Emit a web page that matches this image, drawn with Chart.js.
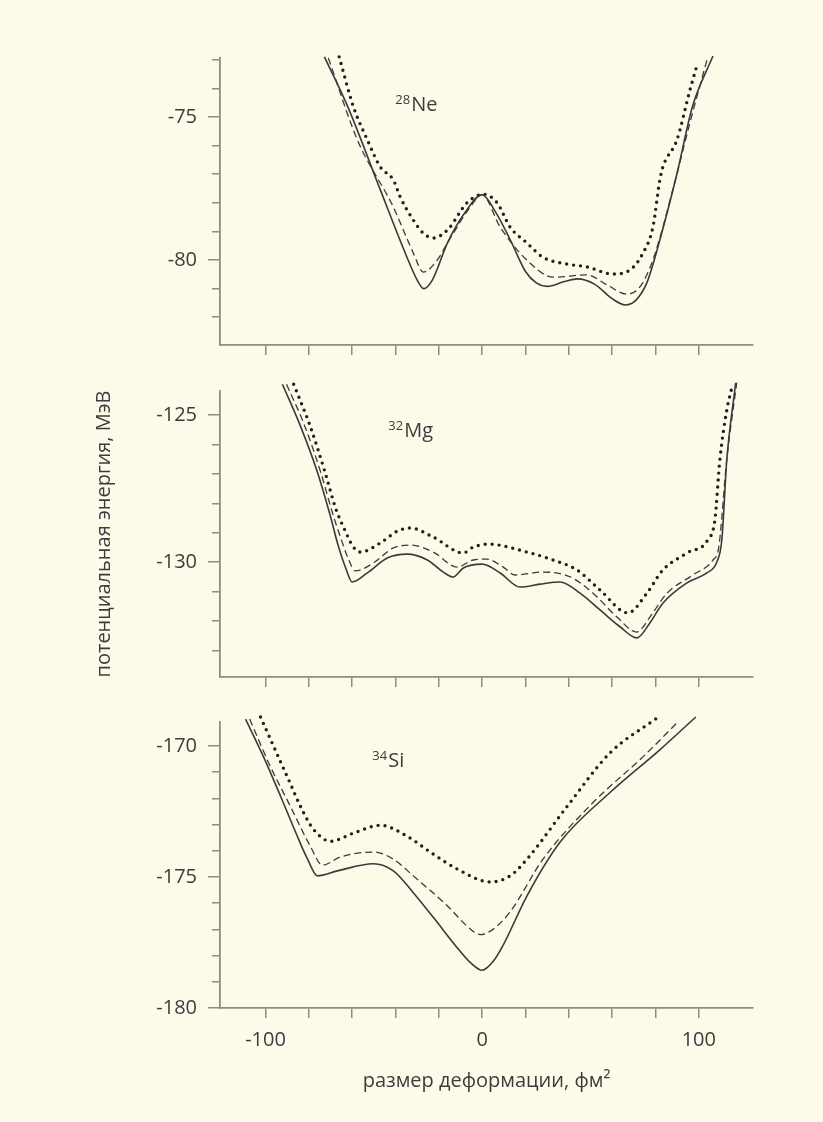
<!DOCTYPE html>
<html>
<head>
<meta charset="utf-8">
<script src="https://cdn.jsdelivr.net/npm/chart.js@4.4.1/dist/chart.umd.min.js"></script>
<style>
  html, body { margin: 0; padding: 0; background: #fdfaea; }
  #wrap { position: relative; width: 823px; height: 1122px; overflow: hidden; }
  #wrap canvas { position: absolute; left: 0; }
</style>
</head>
<body>
<div id="wrap">
  <canvas id="chNe" width="823" height="375" style="top:0px"></canvas>
  <canvas id="chMg" width="823" height="347" style="top:360px"></canvas>
  <canvas id="chSi" width="823" height="430" style="top:692px"></canvas>
</div>
<script>
// x axis (deformation, fm^2)
var xTicks = [-100, -80, -60, -40, -20, 0, 20, 40, 60, 80, 100];
var xLabels = [-100, 0, 100];

// 28Ne, [deformation, energy MeV]
var neSolid = [[-72.8,-72.9],[-62,-74.65],[-47,-77.55],[-35,-79.85],[-30,-80.7],[-27,-81.0],[-23,-80.7],
  [-16,-79.4],[-8,-78.35],[0,-77.72],[6,-78.3],[13,-79.3],[20,-80.4],[25,-80.8],[30,-80.92],[38,-80.75],
  [44,-80.66],[52,-80.85],[60,-81.35],[66,-81.57],[71,-81.4],[76,-80.8],[82,-79.3],[90,-76.95],[97,-74.65],[106.5,-72.87]];
var neDashed = [[-71,-72.94],[-57.6,-75.8],[-41,-78.15],[-31.8,-79.75],[-27.2,-80.42],[-20.7,-80.0],[-16,-79.4],
  [-12,-78.9],[-6,-78.2],[0,-77.72],[8.3,-78.85],[20.6,-80.0],[32.8,-80.6],[48.4,-80.52],[57.6,-80.87],[66.8,-81.19],
  [72.8,-80.94],[78.8,-80.0],[88,-77.55],[95.9,-75.2],[104,-72.94]];
var neDotted = [[-66,-72.9],[-59.4,-74.65],[-53,-75.8],[-47,-76.75],[-41,-77.2],[-37.8,-77.8],[-31.8,-78.6],
  [-27.2,-79.06],[-22.6,-79.23],[-16,-78.95],[-7,-78.0],[0.5,-77.7],[6.9,-78.0],[12.9,-78.85],[20.6,-79.4],
  [28,-79.9],[39,-80.14],[48.4,-80.24],[60.4,-80.49],[68.2,-80.35],[74.2,-79.76],[78.8,-78.85],[82,-77.2],
  [83.4,-76.75],[89.9,-75.8],[95.9,-74.06],[99.5,-73.1]];

// 32Mg
var mgSolid = [[-92.2,-123.95],[-84,-125.35],[-76,-126.95],[-70,-128.45],[-66.8,-129.35],[-63,-130.2],[-60,-130.68],[-53,-130.37],
  [-43.8,-129.86],[-34.6,-129.73],[-25.3,-129.93],[-18,-130.34],[-13.4,-130.51],[-8.7,-130.2],[0,-130.07],
  [8.3,-130.37],[17.5,-130.85],[26.7,-130.75],[36,-130.68],[45,-131.05],[54.4,-131.63],[63.6,-132.2],
  [71.4,-132.58],[77.4,-132.07],[83.4,-131.4],[94.5,-130.71],[103.7,-130.37],[108.3,-130.0],[110.6,-129.25],
  [112.9,-126.53],[117,-123.9]];
var mgDashed = [[-90.3,-123.95],[-82,-125.35],[-74.5,-126.95],[-68.8,-128.4],[-65.4,-129.15],[-62,-129.85],[-58.5,-130.3],[-50.2,-130.03],
  [-41,-129.52],[-33.2,-129.42],[-22.6,-129.66],[-11.5,-130.17],[-4.1,-129.93],[2.3,-129.9],[9.7,-130.17],
  [15.2,-130.44],[28,-130.34],[40.5,-130.5],[51.2,-131.06],[62.2,-131.87],[71.4,-132.38],[77.4,-131.87],
  [85.3,-131.06],[97.2,-130.44],[106.5,-129.93],[109.2,-129.49],[112.9,-126.5],[117.5,-123.9]];
var mgDotted = [[-87,-123.95],[-79.5,-125.35],[-72.5,-126.95],[-67.5,-128.2],[-64,-128.81],[-59.4,-129.49],[-56.2,-129.66],[-47,-129.35],
  [-39.2,-128.95],[-33.2,-128.84],[-22.6,-129.15],[-8.7,-129.69],[-4.1,-129.49],[2.8,-129.39],[20.7,-129.66],
  [32.7,-129.93],[43.8,-130.27],[54.4,-130.95],[67.3,-131.73],[76,-131.06],[83.4,-130.27],[94.5,-129.69],
  [104.1,-129.25],[107.4,-128.57],[109.7,-126.53],[112.9,-124.83],[115.2,-124.08]];

// 34Si
var siSolid = [[-109.2,-168.98],[-100.9,-170.42],[-93,-171.93],[-85.3,-173.45],[-80.6,-174.32],[-76,-174.96],
  [-66.8,-174.77],[-50.2,-174.5],[-41,-174.77],[-31.8,-175.6],[-22,-176.6],[-12,-177.65],[-5,-178.3],
  [0,-178.56],[5.1,-178.22],[9.7,-177.6],[20.7,-175.72],[36,-173.67],[59,-171.78],[82,-170.15],[98.6,-168.9]];
var siDashed = [[-107.3,-168.98],[-97.7,-170.8],[-88.5,-172.31],[-79.3,-173.83],[-73.7,-174.55],[-65.4,-174.24],
  [-50.2,-174.05],[-41,-174.32],[-31.8,-174.96],[-16.1,-176.1],[-6,-176.95],[-0.9,-177.2],[5,-177.0],[12.9,-176.33],
  [28.1,-174.32],[51.2,-172.16],[74.2,-170.42],[90.3,-169.09]];
var siDotted = [[-102.3,-168.9],[-90,-171.17],[-82.5,-172.54],[-77.9,-173.18],[-70,-173.64],[-59.4,-173.33],
  [-47,-173.03],[-34.6,-173.45],[-24,-174.05],[-11.5,-174.7],[3.7,-175.19],[12.9,-174.96],[20.7,-174.32],
  [39.2,-172.31],[59,-170.27],[80.6,-168.94]];

var masses = ['28', '32', '34'];
var symbols = ['Ne', 'Mg', 'Si'];

var ink = '#3a3a3a';
var axisColor = '#8e8d7f';
var textColor = '#3c3c3c';
var family = '"Open Sans", "Noto Sans", sans-serif';

function toPts(arr) {
  return arr.map(function (p) { return {x: p[0], y: p[1]}; });
}

function lineSets(solid, dashed, dotted) {
  return [
    {data: toPts(solid), borderColor: ink, borderWidth: 1.6, clip: false},
    {data: toPts(dashed), borderColor: ink, borderWidth: 1.3, borderDash: [7, 4], clip: false},
    {data: toPts(dotted), borderColor: '#202020', borderWidth: 3.4, borderDash: [0, 7], borderCapStyle: 'round', clip: false}
  ];
}

// isotope name, placed in data coordinates
var isoLabel = {
  id: 'isoLabel',
  afterDatasetsDraw: function (chart, args, opts) {
    var ctx = chart.ctx;
    var px = chart.scales.x.getPixelForValue(opts.at[0]);
    var py = chart.scales.y.getPixelForValue(opts.at[1]);
    ctx.save();
    ctx.fillStyle = textColor;
    ctx.textAlign = 'left';
    ctx.textBaseline = 'alphabetic';
    ctx.font = '13px ' + family;
    ctx.fillText(opts.mass, px, py - 7);
    var w = ctx.measureText(opts.mass).width;
    ctx.font = '20px ' + family;
    ctx.fillText(opts.symbol, px + w + 1, py);
    ctx.restore();
  }
};

function makePanel(id, sets, p) {
  var el = document.getElementById(id);
  if (!el) return;
  new Chart(el, {
    type: 'line',
    data: {datasets: sets},
    options: {
      responsive: false,
      animation: false,
      devicePixelRatio: 1,
      layout: {padding: {top: p.padTop, right: 70, bottom: 0, left: 0}},
      elements: {point: {radius: 0}, line: {cubicInterpolationMode: 'monotone'}},
      plugins: {
        legend: {display: false},
        tooltip: {enabled: false},
        isoLabel: {mass: p.mass, symbol: p.symbol, at: p.labelAt}
      },
      scales: {
        x: {
          type: 'linear', min: -121, max: 125,
          afterBuildTicks: function (s) { s.ticks = xTicks.map(function (v) { return {value: v}; }); },
          afterFit: function (s) { s.height = p.xHeight; },
          grid: {drawOnChartArea: false, tickLength: 10, color: axisColor, lineWidth: 1.5},
          border: {color: axisColor, width: 1.8},
          ticks: {
            display: p.showX, autoSkip: false, maxRotation: 0, padding: 10,
            color: textColor, font: {family: family, size: 20},
            callback: function (v) { return xLabels.indexOf(v) >= 0 ? String(v) : ''; }
          },
          title: {display: !!p.xTitle, text: p.xTitle || '', color: textColor,
                  font: {family: family, size: 20}, padding: {top: 0, bottom: 29}}
        },
        y: {
          min: p.min, max: p.max,
          afterFit: function (s) { s.width = 220; },
          grid: {
            drawOnChartArea: false, tickLength: 12, color: axisColor, lineWidth: 1.5,
            tickBorderDash: function (c) { return c.tick && c.tick.value % 5 === 0 ? [] : [0, 4, 30]; }
          },
          border: {color: axisColor, width: 1.8},
          ticks: {
            stepSize: 1, includeBounds: false, autoSkip: false, padding: 11,
            color: textColor, font: {family: family, size: 20},
            callback: function (v) { return v % 5 === 0 ? String(v) : ''; }
          },
          title: {display: !!p.yTitle, text: p.yTitle || '', color: textColor,
                  font: {family: family, size: 20}, padding: {top: 92, bottom: 0}}
        }
      }
    },
    plugins: [isoLabel]
  });
}

// canvas tops: 0, 360, 692 -> chart areas 58-345, 391-677, 722-1008
makePanel('chNe', lineSets(neSolid, neDashed, neDotted), {
  padTop: 58, xHeight: 30, min: -82.97, max: -72.94, showX: false,
  mass: masses[0], symbol: symbols[0], labelAt: [-40.1, -74.79]
});
makePanel('chMg', lineSets(mgSolid, mgDashed, mgDotted), {
  padTop: 31, xHeight: 30, min: -133.91, max: -124.18, showX: false,
  yTitle: 'потенциальная энергия, МэВ',
  mass: masses[1], symbol: symbols[1], labelAt: [-43.3, -125.75]
});
makePanel('chSi', lineSets(siSolid, siDashed, siDotted), {
  padTop: 30, xHeight: 114, min: -180, max: -169.09, showX: true,
  xTitle: 'размер деформации, фм²',
  mass: masses[2], symbol: symbols[2], labelAt: [-50.7, -170.8]
});
</script>
</body>
</html>
